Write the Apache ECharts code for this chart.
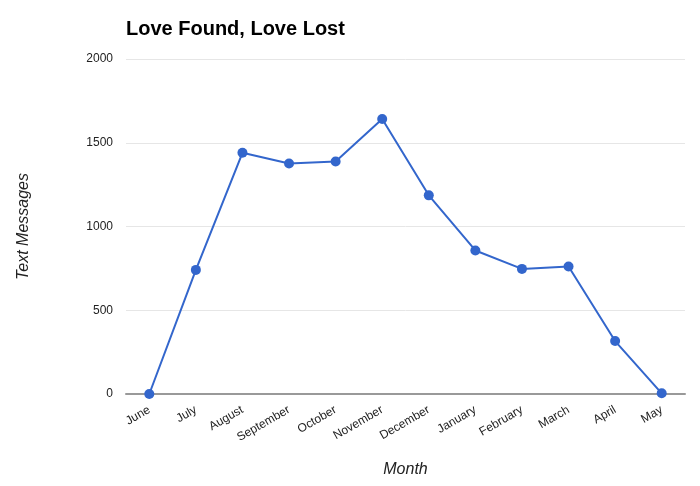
<!DOCTYPE html>
<html>
<head>
<meta charset="utf-8">
<script src="https://cdn.jsdelivr.net/npm/echarts@6/dist/echarts.min.js"></script>
<style>
html,body{margin:0;padding:0;background:#fff;}
#chart{width:700px;height:486px;}
</style>
</head>
<body>
<div id="chart"></div>
<script>
const months = ['June','July','August','September','October','November','December','January','February','March','April','May'];
const textMessages = [0, 741, 1440, 1376, 1388, 1642, 1186, 857, 747, 761, 316, 4];
const yTicks = [0, 500, 1000, 1500, 2000];

const chart = echarts.init(document.getElementById('chart'), null, {renderer: 'canvas'});
chart.setOption({
  animation: false,
  backgroundColor: '#ffffff',
  title: {
    text: 'Love Found, Love Lost',
    left: 121,
    top: 14,
    textStyle: {fontFamily: 'Liberation Sans, Arial, sans-serif', fontSize: 20, fontWeight: 'bold', color: '#000'}
  },
  grid: {left: 126, right: 15, top: 59, bottom: 92, containLabel: false},
  xAxis: {
    type: 'category',
    data: months,
    boundaryGap: true,
    name: 'Month',
    nameLocation: 'middle',
    nameGap: 68,
    nameTextStyle: {fontFamily: 'Liberation Sans, Arial, sans-serif', fontSize: 16, fontStyle: 'italic', color: '#222'},
    axisLine: {show: true, lineStyle: {color: '#999', width: 2}},
    axisTick: {show: false},
    axisLabel: {
      interval: 0,
      rotate: 30,
      margin: 15,
      fontFamily: 'Liberation Sans, Arial, sans-serif',
      fontSize: 12,
      color: '#222'
    }
  },
  yAxis: {
    type: 'value',
    min: yTicks[0],
    max: yTicks[yTicks.length - 1],
    interval: 500,
    name: 'Text Messages',
    nameLocation: 'middle',
    nameGap: 94,
    nameRotate: 90,
    nameTextStyle: {fontFamily: 'Liberation Sans, Arial, sans-serif', fontSize: 16, fontStyle: 'italic', color: '#222'},
    axisLine: {show: false},
    axisTick: {show: false},
    axisLabel: {
      margin: 13,
      fontFamily: 'Liberation Sans, Arial, sans-serif',
      fontSize: 12,
      color: '#222',
      formatter: function (v) { return String(v); }
    },
    splitLine: {show: true, lineStyle: {color: '#e6e6e6', width: 1}}
  },
  series: [{
    type: 'line',
    data: textMessages,
    symbol: 'circle',
    symbolSize: 10,
    lineStyle: {color: '#3366cc', width: 2},
    itemStyle: {color: '#3366cc'},
    z: 5
  }]
});
</script>
</body>
</html>
